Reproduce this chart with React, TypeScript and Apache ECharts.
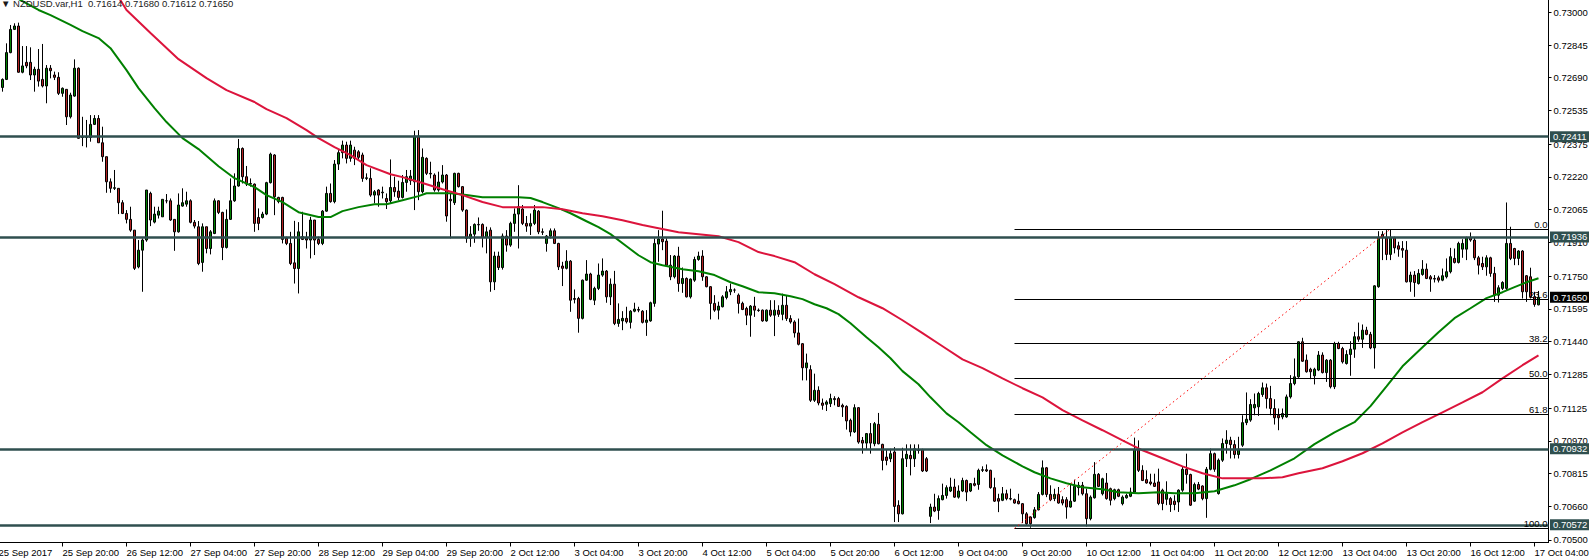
import React, { useEffect, useRef } from 'react';
import * as echarts from 'echarts';

const FONT = '"Liberation Sans", Arial, sans-serif';
const TITLE = '\u25BC NZDUSD.var,H1  0.71614 0.71680 0.71612 0.71650';

// x axis tick labels, one every 16 hourly bars (first one is the bar before the first visible bar)
const X_TICK_LABELS = [
  '25 Sep 2017', '25 Sep 20:00', '26 Sep 12:00', '27 Sep 04:00', '27 Sep 20:00', '28 Sep 12:00',
  '29 Sep 04:00', '29 Sep 20:00', '2 Oct 12:00', '3 Oct 04:00', '3 Oct 20:00', '4 Oct 12:00',
  '5 Oct 04:00', '5 Oct 20:00', '6 Oct 12:00', '9 Oct 04:00', '9 Oct 20:00', '10 Oct 12:00',
  '11 Oct 04:00', '11 Oct 20:00', '12 Oct 12:00', '13 Oct 04:00', '13 Oct 20:00', '16 Oct 12:00',
  '17 Oct 04:00',
];
const BARS_PER_TICK = 16;

const Y_TICKS = [
  0.73, 0.72845, 0.7269, 0.72535, 0.72375, 0.7222, 0.72065, 0.7191, 0.7175,
  0.71595, 0.7144, 0.71285, 0.71125, 0.7097, 0.70815, 0.7066, 0.705,
];
const Y_MIN = 0.704881;
const Y_MAX = 0.730583;

const SUPPORT_LEVELS = [0.72411, 0.71936, 0.70932, 0.70572];
const LAST_PRICE = 0.7165;

const FIB_HIGH = 0.71973;
const FIB_LOW = 0.70555;
const FIB_RATIOS = [0, 23.6, 38.2, 50, 61.8, 100];
const FIB_START_BAR = 253;
const FIB_HIGH_BAR = 347;

// hourly candles, [open, high, low, close], 25 Sep 05:00 -> 17 Oct 05:00
const CANDLES: number[][] = [
  [0.72644, 0.72687, 0.72624, 0.72682], [0.72682, 0.72853, 0.72679, 0.72809], [0.72809, 0.7294, 0.72806, 0.72919], [0.72919, 0.72948, 0.72916, 0.72935],
  [0.72935, 0.72951, 0.72714, 0.72716], [0.72716, 0.7284, 0.72711, 0.72746], [0.72763, 0.7284, 0.72735, 0.72746], [0.72763, 0.72834, 0.72679, 0.72703],
  [0.72703, 0.72742, 0.72624, 0.7273], [0.7273, 0.72826, 0.72648, 0.72674], [0.72682, 0.7285, 0.72644, 0.72651], [0.72651, 0.7275, 0.72569, 0.72735],
  [0.72735, 0.7275, 0.72687, 0.72723], [0.72703, 0.72719, 0.72679, 0.72692], [0.72692, 0.72716, 0.72608, 0.72616], [0.72616, 0.72644, 0.726, 0.7264],
  [0.72635, 0.72635, 0.72466, 0.72505], [0.72505, 0.72619, 0.72497, 0.72608], [0.72603, 0.72777, 0.726, 0.72735], [0.72735, 0.72739, 0.72401, 0.72403],
  [0.72411, 0.72505, 0.72366, 0.72407], [0.72407, 0.7249, 0.7236, 0.72411], [0.72407, 0.72513, 0.72387, 0.72469], [0.72469, 0.72513, 0.72466, 0.72497],
  [0.72497, 0.72513, 0.72382, 0.72382], [0.72382, 0.72458, 0.72292, 0.72316], [0.72316, 0.72316, 0.72145, 0.72197], [0.72197, 0.72213, 0.72145, 0.72166],
  [0.72166, 0.72253, 0.72158, 0.72169], [0.72166, 0.72166, 0.72044, 0.72098], [0.72098, 0.7211, 0.72044, 0.72047], [0.72047, 0.72063, 0.72, 0.72019],
  [0.72019, 0.72079, 0.7196, 0.71968], [0.71968, 0.71968, 0.71779, 0.71787], [0.71794, 0.71921, 0.71787, 0.71873], [0.71873, 0.71929, 0.71676, 0.71921],
  [0.71921, 0.72158, 0.71913, 0.72158], [0.72142, 0.7215, 0.71987, 0.72016], [0.72006, 0.72079, 0.72, 0.72044], [0.72039, 0.72079, 0.72023, 0.72058],
  [0.72031, 0.72114, 0.72031, 0.72114], [0.72107, 0.72139, 0.72095, 0.72107], [0.72107, 0.72118, 0.72012, 0.72016], [0.72019, 0.72019, 0.7187, 0.7196],
  [0.7196, 0.72142, 0.71956, 0.72087], [0.72082, 0.72166, 0.72079, 0.72098], [0.72091, 0.7215, 0.72079, 0.72107], [0.72107, 0.72114, 0.72, 0.72005],
  [0.72005, 0.72016, 0.71976, 0.71987], [0.71984, 0.72011, 0.71802, 0.7181], [0.71815, 0.72, 0.71771, 0.71984], [0.71984, 0.71984, 0.71858, 0.71881],
  [0.71881, 0.71968, 0.71853, 0.7196], [0.71952, 0.72118, 0.71949, 0.72107], [0.72107, 0.7211, 0.72044, 0.72052], [0.72052, 0.72055, 0.71826, 0.71886],
  [0.71886, 0.72066, 0.71881, 0.72019], [0.72019, 0.72213, 0.72016, 0.72107], [0.72107, 0.72237, 0.72102, 0.72177], [0.72177, 0.724, 0.72174, 0.72355],
  [0.72355, 0.7236, 0.72189, 0.72221], [0.72221, 0.72272, 0.72177, 0.72186], [0.72189, 0.72213, 0.72174, 0.72186], [0.72186, 0.72189, 0.7196, 0.72],
  [0.72028, 0.72071, 0.71968, 0.72], [0.72028, 0.72055, 0.72023, 0.72044], [0.72044, 0.72197, 0.72039, 0.72193], [0.72193, 0.72335, 0.72189, 0.72328],
  [0.72324, 0.72328, 0.72039, 0.72126], [0.72123, 0.72126, 0.72095, 0.72103], [0.72123, 0.72126, 0.71905, 0.71924], [0.71929, 0.71937, 0.71897, 0.71905],
  [0.71905, 0.7196, 0.71802, 0.7181], [0.71813, 0.72012, 0.71715, 0.71786], [0.71786, 0.72006, 0.71668, 0.7196], [0.71937, 0.72055, 0.71921, 0.71924],
  [0.7193, 0.7196, 0.71881, 0.71921], [0.71921, 0.72031, 0.71834, 0.72016], [0.72016, 0.72016, 0.7185, 0.71921], [0.71924, 0.71937, 0.71897, 0.71905],
  [0.71905, 0.72063, 0.71897, 0.72058], [0.72058, 0.72174, 0.72055, 0.72142], [0.72142, 0.72189, 0.72098, 0.72103], [0.72103, 0.723, 0.72095, 0.72281],
  [0.72281, 0.72347, 0.72253, 0.72335], [0.72335, 0.72392, 0.72308, 0.72371], [0.72371, 0.72387, 0.72284, 0.72308], [0.72308, 0.72392, 0.72292, 0.72371],
  [0.72347, 0.72363, 0.72276, 0.72308], [0.72339, 0.72347, 0.723, 0.72313], [0.72324, 0.72335, 0.72197, 0.72213], [0.72213, 0.72237, 0.72205, 0.72216],
  [0.72213, 0.72261, 0.72126, 0.72134], [0.72134, 0.72158, 0.72095, 0.7215], [0.72158, 0.72162, 0.72079, 0.72134], [0.72145, 0.72174, 0.72118, 0.72148],
  [0.72118, 0.72142, 0.72068, 0.72103], [0.72107, 0.72303, 0.72095, 0.7217], [0.7217, 0.72221, 0.72126, 0.7215], [0.72153, 0.72202, 0.7211, 0.72123],
  [0.72123, 0.72229, 0.72118, 0.72194], [0.72194, 0.72253, 0.7215, 0.72221], [0.72202, 0.72253, 0.72182, 0.72224], [0.72197, 0.72439, 0.72063, 0.72414],
  [0.72414, 0.72442, 0.7211, 0.7215], [0.7215, 0.72355, 0.72142, 0.72313], [0.72308, 0.72313, 0.72229, 0.72237], [0.72237, 0.72292, 0.72213, 0.72234],
  [0.72229, 0.72237, 0.7215, 0.72158], [0.72158, 0.72245, 0.7215, 0.72196], [0.72196, 0.72276, 0.72189, 0.72229], [0.72229, 0.72234, 0.72008, 0.72035],
  [0.72114, 0.72142, 0.71929, 0.72107], [0.72098, 0.7224, 0.72087, 0.72237], [0.72237, 0.7224, 0.7217, 0.72174], [0.72174, 0.72177, 0.72055, 0.72063],
  [0.72063, 0.72066, 0.71908, 0.71929], [0.71929, 0.71987, 0.71889, 0.71949], [0.71949, 0.72, 0.71908, 0.71995], [0.71995, 0.72028, 0.71965, 0.71993],
  [0.71995, 0.72, 0.71886, 0.71933], [0.71933, 0.71984, 0.71858, 0.7196], [0.71968, 0.71981, 0.71676, 0.71723], [0.71723, 0.71866, 0.71684, 0.71845],
  [0.71845, 0.71866, 0.71779, 0.71791], [0.71791, 0.71952, 0.71781, 0.7194], [0.7194, 0.71968, 0.71866, 0.71897], [0.71897, 0.72008, 0.71889, 0.72],
  [0.72, 0.72071, 0.7196, 0.72044], [0.72044, 0.72181, 0.71881, 0.72079], [0.72068, 0.72087, 0.71992, 0.72], [0.72, 0.72035, 0.7196, 0.71987],
  [0.71987, 0.72047, 0.71945, 0.72], [0.72, 0.72087, 0.71992, 0.72063], [0.72058, 0.72063, 0.71949, 0.7196], [0.7196, 0.71976, 0.71945, 0.71958],
  [0.71905, 0.71945, 0.71866, 0.7194], [0.7194, 0.71976, 0.71929, 0.71965], [0.71965, 0.71976, 0.71902, 0.71905], [0.71905, 0.71908, 0.71779, 0.71794],
  [0.71798, 0.71818, 0.71703, 0.71787], [0.71787, 0.71873, 0.71782, 0.71821], [0.71821, 0.71826, 0.71581, 0.71636], [0.71644, 0.71687, 0.71621, 0.7164],
  [0.71644, 0.71652, 0.71482, 0.7155], [0.7155, 0.71734, 0.71545, 0.71731], [0.71731, 0.71826, 0.71728, 0.7176], [0.7176, 0.71766, 0.71636, 0.7164],
  [0.71636, 0.717, 0.71613, 0.71692], [0.71692, 0.7181, 0.71684, 0.71755], [0.71755, 0.71834, 0.71747, 0.71774], [0.71774, 0.71779, 0.71624, 0.71652],
  [0.71652, 0.71739, 0.71613, 0.71712], [0.71712, 0.71775, 0.71518, 0.71526], [0.71526, 0.71621, 0.7151, 0.71545], [0.71538, 0.71584, 0.71494, 0.7155],
  [0.7155, 0.71605, 0.71526, 0.71534], [0.71531, 0.71589, 0.71502, 0.71584], [0.71584, 0.71624, 0.71579, 0.71594], [0.71592, 0.71605, 0.71579, 0.71589],
  [0.71584, 0.71589, 0.71526, 0.71531], [0.71531, 0.71589, 0.71467, 0.71542], [0.71538, 0.71629, 0.71534, 0.71624], [0.71621, 0.71929, 0.71605, 0.71905],
  [0.71902, 0.71968, 0.71818, 0.71926], [0.71926, 0.7206, 0.71873, 0.71913], [0.71916, 0.71929, 0.71794, 0.71802], [0.71802, 0.7185, 0.71731, 0.71747],
  [0.71747, 0.7185, 0.71739, 0.71845], [0.71845, 0.71889, 0.71676, 0.71715], [0.71715, 0.71791, 0.71671, 0.71739], [0.71739, 0.71744, 0.71649, 0.71652],
  [0.71652, 0.71739, 0.71644, 0.71736], [0.71731, 0.71842, 0.71723, 0.71829], [0.71829, 0.71866, 0.71823, 0.71845], [0.71845, 0.71873, 0.71728, 0.71747],
  [0.71747, 0.7175, 0.71697, 0.717], [0.717, 0.71703, 0.71545, 0.71621], [0.71621, 0.7166, 0.71581, 0.71589], [0.71589, 0.71629, 0.71545, 0.71608],
  [0.71605, 0.7166, 0.71602, 0.71652], [0.71649, 0.71703, 0.7164, 0.71676], [0.71676, 0.71715, 0.7166, 0.71687], [0.71684, 0.71692, 0.71671, 0.71684],
  [0.7166, 0.71668, 0.71573, 0.71621], [0.71621, 0.71629, 0.71589, 0.71592], [0.71597, 0.71605, 0.71518, 0.71565], [0.71565, 0.71613, 0.71463, 0.71608],
  [0.71608, 0.71652, 0.71557, 0.71589], [0.71589, 0.71597, 0.71581, 0.71587], [0.71589, 0.71592, 0.71534, 0.71538], [0.71538, 0.71592, 0.71534, 0.71589],
  [0.71589, 0.71636, 0.71557, 0.71565], [0.71565, 0.71636, 0.71466, 0.71589], [0.71588, 0.71612, 0.71557, 0.71569], [0.71569, 0.71667, 0.71541, 0.71612],
  [0.71612, 0.71659, 0.71538, 0.71549], [0.71549, 0.71565, 0.71525, 0.71533], [0.71533, 0.71541, 0.71459, 0.71481], [0.71481, 0.71549, 0.71422, 0.71427],
  [0.7143, 0.71433, 0.71256, 0.71316], [0.71316, 0.71383, 0.71256, 0.71339], [0.71307, 0.71328, 0.71154, 0.71162], [0.71162, 0.71288, 0.71154, 0.71209],
  [0.71209, 0.71228, 0.71138, 0.71149], [0.71149, 0.7117, 0.71117, 0.71138], [0.71143, 0.71162, 0.71111, 0.71154], [0.71146, 0.71193, 0.7113, 0.7117],
  [0.7117, 0.71181, 0.71138, 0.71165], [0.7117, 0.71178, 0.7113, 0.71133], [0.71138, 0.71146, 0.71083, 0.7113], [0.71133, 0.71138, 0.71023, 0.71064],
  [0.71067, 0.71075, 0.70991, 0.71012], [0.71012, 0.71143, 0.71007, 0.71127], [0.71127, 0.7113, 0.70956, 0.70964], [0.70972, 0.70988, 0.70909, 0.70959],
  [0.70959, 0.71007, 0.70928, 0.71004], [0.71004, 0.71054, 0.70909, 0.70959], [0.70956, 0.71059, 0.70944, 0.71051], [0.71048, 0.71102, 0.70953, 0.70956],
  [0.70953, 0.70956, 0.7083, 0.70877], [0.70893, 0.70928, 0.70854, 0.70877], [0.70885, 0.70932, 0.70869, 0.70909], [0.70917, 0.7094, 0.70585, 0.70659],
  [0.70664, 0.70688, 0.70585, 0.70624], [0.70624, 0.70937, 0.70621, 0.70885], [0.70885, 0.70953, 0.70846, 0.70906], [0.70901, 0.70953, 0.70806, 0.70885],
  [0.70885, 0.70953, 0.70846, 0.70932], [0.70928, 0.70953, 0.70909, 0.70924], [0.70928, 0.70932, 0.70822, 0.70827], [0.70885, 0.70893, 0.70822, 0.70827],
  [0.70612, 0.70672, 0.7058, 0.70656], [0.70656, 0.70719, 0.70632, 0.70637], [0.7064, 0.70711, 0.70596, 0.70696], [0.70691, 0.70767, 0.70688, 0.70711],
  [0.70711, 0.70759, 0.70696, 0.70748], [0.70732, 0.70795, 0.70727, 0.70751], [0.70751, 0.7079, 0.707, 0.70703], [0.70703, 0.70759, 0.70696, 0.70732],
  [0.70732, 0.70795, 0.70727, 0.70782], [0.70782, 0.70786, 0.70684, 0.70727], [0.70732, 0.7077, 0.70727, 0.70767], [0.70767, 0.70795, 0.70754, 0.70759],
  [0.70763, 0.70838, 0.70738, 0.7083], [0.7083, 0.70849, 0.70822, 0.70833], [0.70833, 0.70858, 0.70822, 0.70827], [0.7083, 0.70833, 0.70743, 0.70748],
  [0.70748, 0.70795, 0.7068, 0.70684], [0.70696, 0.70719, 0.70632, 0.70684], [0.70688, 0.70751, 0.70684, 0.70719], [0.70719, 0.70738, 0.70688, 0.70696],
  [0.70696, 0.70743, 0.70688, 0.70694], [0.70691, 0.70696, 0.70672, 0.70675], [0.70684, 0.70719, 0.70669, 0.70672], [0.70672, 0.70675, 0.7058, 0.70624],
  [0.70624, 0.70632, 0.70569, 0.70577], [0.70609, 0.70612, 0.70558, 0.70577], [0.70606, 0.70656, 0.70601, 0.70643], [0.70643, 0.70727, 0.7064, 0.70716],
  [0.70716, 0.70877, 0.70711, 0.70842], [0.70842, 0.70846, 0.70703, 0.70716], [0.70716, 0.70759, 0.70684, 0.70691], [0.70696, 0.70743, 0.70684, 0.70716],
  [0.70716, 0.70751, 0.70672, 0.70675], [0.70691, 0.70707, 0.70664, 0.70675], [0.70691, 0.70703, 0.70601, 0.70656], [0.70656, 0.70767, 0.70653, 0.70684],
  [0.70684, 0.70786, 0.7068, 0.70754], [0.70748, 0.70775, 0.70711, 0.70759], [0.70759, 0.70775, 0.70711, 0.70719], [0.70719, 0.70743, 0.70564, 0.70601],
  [0.70601, 0.70711, 0.70593, 0.70703], [0.707, 0.70869, 0.70696, 0.70811], [0.70811, 0.70817, 0.70751, 0.70754], [0.70719, 0.70795, 0.70711, 0.7079],
  [0.7077, 0.70817, 0.70691, 0.70696], [0.70743, 0.70748, 0.70664, 0.70688], [0.70696, 0.70743, 0.70688, 0.70738], [0.70738, 0.70743, 0.70703, 0.70707],
  [0.70672, 0.70711, 0.70664, 0.70703], [0.707, 0.70719, 0.70696, 0.70711], [0.70707, 0.70748, 0.70703, 0.70727], [0.70727, 0.70985, 0.70723, 0.70928],
  [0.70928, 0.70972, 0.70822, 0.7083], [0.7083, 0.70854, 0.70779, 0.70782], [0.70786, 0.7083, 0.70767, 0.7077], [0.70775, 0.70814, 0.70759, 0.70767],
  [0.7077, 0.70814, 0.70751, 0.70754], [0.70775, 0.70838, 0.70665, 0.70673], [0.70736, 0.70743, 0.70641, 0.70673], [0.70693, 0.70778, 0.70665, 0.7072],
  [0.70696, 0.70704, 0.70633, 0.70668], [0.70684, 0.70712, 0.70641, 0.70668], [0.7068, 0.7074, 0.70633, 0.70736], [0.70736, 0.70846, 0.70728, 0.70835],
  [0.70835, 0.70909, 0.70767, 0.7081], [0.7081, 0.70814, 0.70661, 0.70665], [0.70684, 0.70772, 0.7068, 0.70763], [0.70763, 0.70775, 0.70736, 0.70741],
  [0.70756, 0.70759, 0.70688, 0.70696], [0.70696, 0.70846, 0.70605, 0.70835], [0.70835, 0.70933, 0.7083, 0.70909], [0.70909, 0.70914, 0.70823, 0.70835],
  [0.7072, 0.70886, 0.70715, 0.70878], [0.70878, 0.70981, 0.7087, 0.70957], [0.70957, 0.7102, 0.70909, 0.70973], [0.70973, 0.70989, 0.70886, 0.70952],
  [0.70952, 0.70973, 0.70886, 0.70905], [0.70905, 0.70989, 0.70886, 0.7093], [0.70949, 0.71091, 0.70941, 0.71056], [0.71056, 0.71199, 0.71044, 0.71072],
  [0.71068, 0.71167, 0.7106, 0.71142], [0.71126, 0.71194, 0.71091, 0.71142], [0.71131, 0.71202, 0.71088, 0.71194], [0.71189, 0.71246, 0.71178, 0.71221],
  [0.71221, 0.71241, 0.71123, 0.7117], [0.7117, 0.7123, 0.71091, 0.71123], [0.71123, 0.71167, 0.71047, 0.71079], [0.71091, 0.71123, 0.7102, 0.71079],
  [0.71083, 0.71123, 0.71072, 0.71099], [0.71083, 0.71189, 0.71079, 0.71178], [0.71178, 0.71281, 0.7117, 0.71241], [0.71241, 0.7136, 0.71233, 0.71273],
  [0.71273, 0.71442, 0.71268, 0.71439], [0.71439, 0.71458, 0.71344, 0.71347], [0.71352, 0.71379, 0.71293, 0.71297], [0.71309, 0.71316, 0.71262, 0.71297],
  [0.71278, 0.71316, 0.71237, 0.71309], [0.71305, 0.71395, 0.713, 0.71376], [0.71376, 0.71389, 0.71289, 0.71293], [0.71293, 0.71357, 0.71249, 0.71352],
  [0.71352, 0.71357, 0.71218, 0.71226], [0.71226, 0.71439, 0.71215, 0.71431], [0.71431, 0.71439, 0.71404, 0.71407], [0.71407, 0.71415, 0.71336, 0.71344],
  [0.71336, 0.71399, 0.71331, 0.71379], [0.71379, 0.71442, 0.71278, 0.71404], [0.71404, 0.71486, 0.71363, 0.71463], [0.71463, 0.7153, 0.71439, 0.71451],
  [0.71451, 0.71521, 0.7141, 0.71494], [0.71494, 0.7151, 0.7147, 0.71474], [0.71474, 0.71486, 0.71404, 0.7141], [0.7141, 0.71707, 0.71312, 0.71704],
  [0.717, 0.71963, 0.71695, 0.71932], [0.71948, 0.71963, 0.71826, 0.71932], [0.71932, 0.71968, 0.71826, 0.71853], [0.71853, 0.71973, 0.71826, 0.71932],
  [0.71932, 0.71937, 0.71858, 0.71884], [0.71894, 0.71913, 0.71842, 0.71878], [0.71881, 0.71916, 0.71837, 0.71873], [0.71873, 0.71916, 0.7172, 0.71723],
  [0.71723, 0.71771, 0.71676, 0.71755], [0.71755, 0.71774, 0.71652, 0.7172], [0.71715, 0.71783, 0.7171, 0.71763], [0.71758, 0.71826, 0.71752, 0.71783],
  [0.71783, 0.7181, 0.71736, 0.71739], [0.71747, 0.71755, 0.71676, 0.71736], [0.71739, 0.71755, 0.7172, 0.71736], [0.71742, 0.71752, 0.7172, 0.71731],
  [0.71731, 0.71786, 0.71726, 0.71752], [0.71747, 0.71834, 0.71739, 0.71771], [0.71771, 0.71884, 0.71763, 0.71842], [0.71834, 0.71881, 0.7181, 0.71815],
  [0.71815, 0.71913, 0.7181, 0.71905], [0.71878, 0.71925, 0.71837, 0.71905], [0.71878, 0.71937, 0.71826, 0.71932], [0.71932, 0.71957, 0.71913, 0.71921],
  [0.71921, 0.71932, 0.71826, 0.71837], [0.71837, 0.71846, 0.71758, 0.71802], [0.7181, 0.71842, 0.71779, 0.71794], [0.71794, 0.71849, 0.71752, 0.71837],
  [0.71837, 0.71842, 0.71747, 0.71763], [0.71763, 0.71794, 0.71628, 0.7166], [0.7166, 0.71707, 0.71625, 0.71695], [0.71692, 0.71726, 0.71684, 0.7172],
  [0.71692, 0.72099, 0.71684, 0.71905], [0.71905, 0.71984, 0.71826, 0.71834], [0.71881, 0.71884, 0.71802, 0.71834], [0.71834, 0.71873, 0.71802, 0.71869],
  [0.71869, 0.71873, 0.71644, 0.71676], [0.71752, 0.71755, 0.71628, 0.71676], [0.71747, 0.7179, 0.71644, 0.71652], [0.71652, 0.71676, 0.71605, 0.71616],
  [0.71614, 0.7168, 0.71612, 0.7165],
];

// moving averages: [bar, value]
const MA_GREEN: number[][] = [
  [4, 0.73063], [9, 0.73011], [12, 0.72987], [17, 0.7294], [20, 0.72911], [24, 0.72878], [27, 0.7283],
  [31, 0.72726], [34, 0.72641], [38, 0.72546], [41, 0.7248], [45, 0.72404], [49, 0.72352], [54, 0.72271],
  [58, 0.72214], [63, 0.72172], [66, 0.72134], [70, 0.72101], [74, 0.72053], [79, 0.7203], [82, 0.7203],
  [85, 0.72058], [89, 0.72077], [93, 0.72091], [96, 0.72091], [100, 0.7211], [104, 0.72129], [106, 0.72143],
  [112, 0.72143], [116, 0.72134], [120, 0.72124], [129, 0.72124], [132, 0.7212], [135, 0.72101], [139, 0.72072],
  [142, 0.72048], [146, 0.7201], [149, 0.71982], [152, 0.71949], [156, 0.71892], [159, 0.71849], [162, 0.71816],
  [165, 0.71802], [170, 0.71783], [174, 0.71773], [178, 0.71755], [182, 0.71721], [185, 0.71702], [189, 0.71674],
  [193, 0.71669], [197, 0.71655], [200, 0.71641], [203, 0.71617], [206, 0.71598], [209, 0.7157], [212, 0.71527],
  [216, 0.71461], [219, 0.71413], [222, 0.71361], [225, 0.713], [229, 0.71238], [232, 0.71176], [236, 0.711],
  [239, 0.71058], [242, 0.7101], [246, 0.70949], [250, 0.70901], [255, 0.70849], [258, 0.70821], [262, 0.70792],
  [266, 0.70769], [270, 0.7075], [275, 0.7074], [279, 0.70726], [284, 0.70721], [289, 0.70726], [293, 0.70721],
  [298, 0.70721], [303, 0.70731], [308, 0.70759], [312, 0.70788], [317, 0.7083], [323, 0.70887], [328, 0.70954],
  [333, 0.7101], [338, 0.71058], [342, 0.71134], [346, 0.71228], [350, 0.71323], [355, 0.71413], [359, 0.71484],
  [363, 0.71551], [367, 0.71598], [371, 0.71646], [375, 0.71674], [378, 0.71698], [381, 0.71721], [384, 0.7174],
];
const MA_RED: number[][] = [
  [29, 0.73072], [31, 0.73011], [37, 0.72902], [44, 0.72778], [51, 0.72688], [56, 0.72631], [63, 0.72575],
  [66, 0.72541], [71, 0.72499], [76, 0.72442], [79, 0.72404], [83, 0.72361], [87, 0.72323], [91, 0.72276],
  [97, 0.72233], [100, 0.72219], [105, 0.72191], [110, 0.72162], [115, 0.72134], [120, 0.72101], [125, 0.72077],
  [130, 0.72077], [135, 0.72077], [140, 0.72067], [145, 0.72048], [150, 0.72034], [155, 0.72015], [160, 0.71992],
  [164, 0.71977], [169, 0.71958], [174, 0.71949], [179, 0.71939], [184, 0.71911], [189, 0.71864], [193, 0.71845],
  [198, 0.71816], [203, 0.71759], [208, 0.71712], [214, 0.7165], [220, 0.71598], [225, 0.71541], [230, 0.7148],
  [235, 0.71418], [240, 0.71356], [245, 0.71314], [250, 0.71266], [255, 0.71219], [260, 0.71176], [265, 0.71115],
  [270, 0.71067], [275, 0.7102], [280, 0.70972], [285, 0.70925], [290, 0.70887], [295, 0.70849], [300, 0.70816],
  [305, 0.70792], [310, 0.70792], [315, 0.70792], [320, 0.70797], [324, 0.70816], [330, 0.7084], [335, 0.70873],
  [340, 0.70911], [345, 0.70958], [350, 0.7101], [355, 0.71058], [360, 0.71105], [365, 0.71152], [370, 0.712],
  [375, 0.71266], [380, 0.71328], [384, 0.71375],
];

export default function App() {
  const ref = useRef<HTMLDivElement>(null);

  useEffect(() => {
    document.body.style.margin = '0';
    const chart = echarts.init(ref.current!, null, { renderer: 'svg' });

    const catCount = 1 + CANDLES.length + 2;
    const categories = Array.from({ length: catCount }, (_, i) => String(i));
    const firstCat = 0;
    const lastCat = catCount - 1;

    const candleData = CANDLES.map((c, j) => {
      const [o, h, l, cl] = c;
      return [j + 1, o, cl, Math.min(l, o, cl), Math.max(h, o, cl)];
    });

    const txt = { fontFamily: FONT, fontSize: 9.5, color: '#000' };

    const boxLabel = (v: number, bg: string) => ({
      show: true,
      position: 'end',
      formatter: v.toFixed(5),
      ...txt,
      color: '#fff',
      backgroundColor: bg,
      padding: [1, 6, 0, 3],
      lineHeight: 10,
      distance: 1.5,
    });

    // horizontal full-width levels drawn between the first and last category
    const supportLines = SUPPORT_LEVELS.map((v) => [
      {
        coord: [firstCat, v],
        x: 0,
        lineStyle: { color: '#2F4F4F', width: 2.5, type: 'solid' },
        label: boxLabel(v, '#2F4F4F'),
      },
      { coord: [lastCat, v], x: 1548.5 },
    ]);

    const lastPriceLine = [
      {
        coord: [firstCat, LAST_PRICE],
        x: 0,
        lineStyle: { color: 'rgba(0,0,0,0)', width: 0 },
        label: boxLabel(LAST_PRICE, '#000'),
      },
      { coord: [lastCat, LAST_PRICE], x: 1548.5 },
    ];

    const fibLines = FIB_RATIOS.map((r) => {
      const v = FIB_HIGH - ((FIB_HIGH - FIB_LOW) * r) / 100;
      return [
        {
          coord: [FIB_START_BAR + 1, v],
          lineStyle: { color: '#000', width: 1, type: 'solid' },
          label: {
            show: true,
            position: 'insideEndTop',
            formatter: r.toFixed(1),
            ...txt,
            distance: [1, 0],
          },
        },
        { coord: [lastCat, v], x: 1548.5 },
      ];
    });

    const trendLine = [
      {
        coord: [FIB_START_BAR + 1, FIB_LOW],
        lineStyle: { color: '#FF0000', width: 1, type: [1.5, 3] },
        label: { show: false },
      },
      { coord: [FIB_HIGH_BAR + 1, FIB_HIGH] },
    ];

    const option: any = {
      animation: false,
      backgroundColor: '#fff',
      textStyle: { fontFamily: FONT },
      title: {
        text: TITLE,
        left: 1,
        top: -2,
        padding: 0,
        textStyle: { fontFamily: FONT, fontSize: 9.5, fontWeight: 'normal', color: '#1a1a1a' },
      },
      grid: { left: -3.5, right: 40.5, top: 0, bottom: 16.5, containLabel: false, outerBoundsMode: 'none' },
      xAxis: {
        type: 'category',
        data: categories,
        boundaryGap: true,
        axisLine: { show: true, lineStyle: { color: '#000', width: 1 } },
        axisTick: { show: true, interval: BARS_PER_TICK - 1, alignWithLabel: true, length: 4, lineStyle: { color: '#000' } },
        axisLabel: {
          interval: BARS_PER_TICK - 1,
          formatter: (_v: string, i: number) => (i % BARS_PER_TICK === 0 ? X_TICK_LABELS[i / BARS_PER_TICK] ?? '' : ''),
          align: 'left',
          margin: 5,
          ...txt,
        },
        splitLine: { show: false },
      },
      yAxis: {
        type: 'value',
        position: 'right',
        min: Y_MIN,
        max: Y_MAX,
        scale: true,
        splitLine: { show: false },
        axisLine: { show: true, lineStyle: { color: '#000', width: 1 } },
        axisTick: { show: true, length: 3, customValues: Y_TICKS, lineStyle: { color: '#000' } },
        axisLabel: {
          customValues: Y_TICKS,
          formatter: (v: number) => v.toFixed(5),
          margin: 5,
          ...txt,
        },
      },
      series: [
        {
          type: 'candlestick',
          data: candleData,
          encode: { x: 0, y: [1, 2, 3, 4] },
          barWidth: 3,
          silent: true,
          itemStyle: {
            color: '#008000',
            color0: '#B22222',
            borderColor: '#000',
            borderColor0: '#000',
            borderColorDoji: '#000',
            borderWidth: 1,
          },
        },
        {
          type: 'line',
          data: MA_GREEN.map(([j, v]) => [j + 1, v]),
          symbol: 'none',
          silent: true,
          z: 3,
          lineStyle: { color: '#008000', width: 2 },
        },
        {
          type: 'line',
          data: MA_RED.map(([j, v]) => [j + 1, v]),
          symbol: 'none',
          silent: true,
          z: 3,
          lineStyle: { color: '#DC143C', width: 2 },
          markLine: {
            silent: true,
            symbol: ['none', 'none'],
            animation: false,
            z: 5,
            emphasis: { disabled: true },
            data: [...supportLines, lastPriceLine, ...fibLines, trendLine],
          },
        },
      ],
    };

    chart.setOption(option);
    return () => chart.dispose();
  }, []);

  return (
    <div
      ref={ref}
      style={{ position: 'fixed', left: 0, top: 0, width: 1589, height: 559, background: '#fff' }}
    />
  );
}
